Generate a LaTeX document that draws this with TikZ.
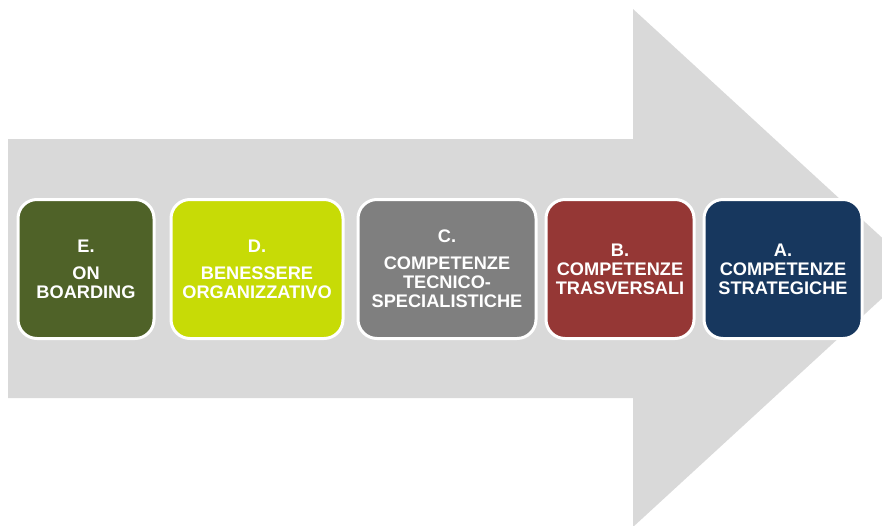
\documentclass[tikz,border=0pt]{standalone}
\usepackage{fontspec}
\setmainfont{Liberation Sans}
\usepackage{tikz}
\usetikzlibrary{positioning}
\definecolor{arrowgray}{HTML}{D9D9D9}
\definecolor{olive}{HTML}{4F6228}
\definecolor{lime}{HTML}{C7DB06}
\definecolor{midgray}{HTML}{7F7F7F}
\definecolor{brick}{HTML}{953735}
\definecolor{navy}{HTML}{17375E}

\begin{document}
\begin{tikzpicture}[
  x=1pt, y=-1pt,
  node distance=10pt,
  area/.style={rectangle, rounded corners=19pt, draw=white, line width=3pt,
               minimum height=139pt, text=white, align=center,
               font=\bfseries\fontsize{18.2}{19}\selectfont, inner sep=2pt},
]
\useasboundingbox (0,0) rectangle (882,525);

%% big arrow in the back
\begin{scope}
\clip (0,0) rectangle (882,525);
\fill[arrowgray] (8,139) -- (633,139) -- (633,9) -- (915,268)
  -- (633,527) -- (633,398) -- (8,398) -- cycle;
\end{scope}

%% the five areas
\node[area, fill=olive, minimum width=136pt, anchor=west] (onb) at (16.5,269)
  {E.\\[8pt]ON\\BOARDING};
\node[area, fill=lime, minimum width=172pt, right=14pt of onb] (ben)
  {D.\\[8pt]BENESSERE\\ORGANIZZATIVO};
\node[area, fill=midgray, minimum width=178pt, right=12pt of ben] (tec)
  {C.\\[8pt]COMPETENZE\\TECNICO-\\SPECIALISTICHE};
\node[area, fill=brick, minimum width=148pt, right=7pt of tec] (tra)
  {B.\\COMPETENZE\\TRASVERSALI};
\node[area, fill=navy, minimum width=158pt, right=7pt of tra] (str)
  {A.\\COMPETENZE\\STRATEGICHE};

\end{tikzpicture}
\end{document}
